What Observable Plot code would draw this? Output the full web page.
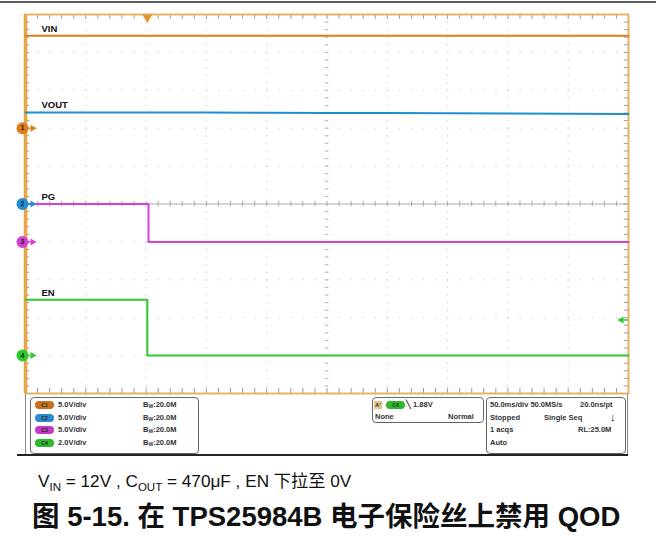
<!DOCTYPE html>
<html><head><meta charset="utf-8">
<script src="https://cdn.jsdelivr.net/npm/d3@7"></script>
<script src="https://cdn.jsdelivr.net/npm/@observablehq/plot@0.6"></script>
<style>
body{margin:0;background:#fff;font-family:"Liberation Sans",Arial,sans-serif;}
#wrap{position:relative;width:656px;height:537px;overflow:hidden;background:#fff;}
.abs{position:absolute;white-space:nowrap;}
.pt{position:absolute;white-space:nowrap;font:bold 7.5px "Liberation Sans",Arial,sans-serif;color:#333;line-height:8px;}
.box{position:absolute;border:1px solid #666;border-radius:4px;}
.badge{position:absolute;width:19px;height:8px;border-radius:4px;font:bold 5px "Liberation Sans";color:#222;text-align:center;line-height:8px;}
</style></head><body><div id="wrap"></div>
<script>
// ---- data ----
const channels = ["C1", "C2", "C3", "C4"];
const names = ["VIN", "VOUT", "PG", "EN"];
const voltsPerDiv = [5, 5, 5, 2];
const groundDiv = [2, 0, -1, -4];
const colors = ["#E07D1C", "#1F8FD2", "#D63ED6", "#2CCB2C"];
const badgeColors = ["#C9701E", "#2A8BD0", "#C23AC2", "#2DB82D"];
const vinTime = [-101, 399];
const vinV = [12.2, 12.2];
const voutTime = [-101, -50, 0, 50, 100, 150, 200, 250, 300, 350, 399];
const voutV = [12.08, 12.08, 12.07, 12.06, 12.04, 12.02, 12.0, 11.97, 11.94, 11.9, 11.87];
const pgTime = [-101, 1, 1, 399];
const pgV = [5, 5, 0, 0];
const enTime = [-101, 0, 0, 399];
const enV = [2.95, 2.95, 0, 0];
const trigLevel = 1.88;
const timePerDivMs = 50;
const xStart = -101;
const vdivLabels = ["5.0V/div", "5.0V/div", "5.0V/div", "2.0V/div"];

// ---- derived ----
const xEnd = xStart + 10 * timePerDivMs;
const times = [vinTime, voutTime, pgTime, enTime];
const volts = [vinV, voutV, pgV, enV];
const traces = times.map((ts, ch) => ts.map((t, i) => ({t, d: groundDiv[ch] + volts[ch][i] / voltsPerDiv[ch], ch})));
const gridX = d3.range(1, 10).map(k => xStart + k * timePerDivMs);
const gridY = [-4, -3, -2, -1, 1, 2, 3, 4];
const minorX = d3.range(1, 50).map(k => xStart + k * timePerDivMs / 5);
const minorY = d3.range(-24, 25).map(k => k / 5);
const xCenter = xStart + 5 * timePerDivMs;
const labels = names.map((n, ch) => ({n, ch, d: traces[ch][0].d}));
const markers = channels.map((c, ch) => ({k: String(ch + 1), ch, d: groundDiv[ch]}));
const trig = [{d: groundDiv[3] + trigLevel / voltsPerDiv[3]}];

const gridStroke = "#c8c8c8";
const plot = Plot.plot({
  width: 656, height: 396,
  marginLeft: 25, marginRight: 28, marginTop: 14, marginBottom: 3,
  x: {domain: [xStart, xEnd], axis: null},
  y: {domain: [-5, 5], axis: null},
  style: {background: "transparent", fontFamily: "Liberation Sans, Arial, sans-serif", overflow: "visible"},
  marks: [
    Plot.ruleX(gridX, {stroke: gridStroke, strokeDasharray: "1.3 6.28", strokeWidth: 1}),
    Plot.ruleY(gridY, {stroke: gridStroke, strokeDasharray: "1.3 10.76", strokeWidth: 1}),
    Plot.ruleY([0], {stroke: "#aaa", strokeWidth: 1}),
    Plot.ruleX(minorX, {y1: () => -0.07, y2: () => 0.07, stroke: "#aaa"}),
    Plot.ruleY(minorY, {x1: () => xCenter - 1.6, x2: () => xCenter + 1.6, stroke: "#bbb"}),
    Plot.ruleX(minorX, {y1: () => 5, y2: () => 4.87, stroke: "#999"}),
    Plot.ruleX(minorX, {y1: () => -5, y2: () => -4.87, stroke: "#999"}),
    Plot.ruleY(minorY, {x1: () => xStart, x2: () => xStart + 3.5, stroke: "#999"}),
    Plot.ruleY(minorY, {x1: () => xEnd - 3.5, x2: () => xEnd, stroke: "#999"}),
    Plot.frame({stroke: "#E6B366", strokeWidth: 2}),
    Plot.ruleX([xStart], {stroke: "#E8A445", strokeWidth: 3.5}),
    ...traces.map((tr, ch) => Plot.line(tr, {x: "t", y: "d", stroke: colors[ch], strokeWidth: 2, curve: "linear"})),
    Plot.text(labels, {x: () => xStart, y: "d", text: "n", dx: 16, dy: -7, textAnchor: "start", fontWeight: "bold", fontSize: 9.5, fill: "#111"}),
    // channel ground markers with arrows
    Plot.ruleY(markers, {y: "d", x1: () => xStart, x2: () => xStart + 4.5, stroke: d => colors[d.ch], strokeWidth: 1.5}),
    Plot.dot(markers, {x: () => xStart, y: "d", symbol: "triangle", rotate: 90, r: 2.6, dx: 7, fill: d => colors[d.ch], stroke: "none"}),
    Plot.dot(markers, {x: () => xStart, y: "d", r: 6, fill: d => colors[d.ch], dx: -3, stroke: "none"}),
    Plot.text(markers, {x: () => xStart, y: "d", text: "k", dx: -3, fontSize: 7, fontWeight: "bold", fill: "#222"}),
    // trigger position
    Plot.dot([0], {x: d => d, y: () => 5, symbol: "triangle", rotate: 180, r: 3.6, dy: 3, fill: "#E8902A"}),
    // trigger level
    Plot.ruleY(trig, {y: "d", x1: () => xEnd - 5, x2: () => xEnd, stroke: colors[3], strokeWidth: 1.5}),
    Plot.dot(trig, {x: () => xEnd, y: "d", symbol: "triangle", rotate: -90, r: 2.6, dx: -7, fill: colors[3], stroke: "none"})
  ]
});
plot.style.position = "absolute"; plot.style.left = "0px"; plot.style.top = "0px";
const wrap = document.getElementById("wrap");
wrap.appendChild(plot);

function add(html) { wrap.insertAdjacentHTML("beforeend", html); }
// top rule
add(`<div class="abs" style="left:0;top:1px;width:656px;height:2px;background:#5e5e5e"></div>`);
// panel frame lines
add(`<div class="abs" style="left:25px;top:394px;width:1px;height:61px;background:#888"></div>`);
add(`<div class="abs" style="left:627px;top:394px;width:1px;height:61px;background:#888"></div>`);
add(`<div class="abs" style="left:17px;top:454px;width:611px;height:1.5px;background:#222"></div>`);
add(`<div class="box" style="left:30px;top:397px;width:167px;height:55px"></div>`);
add(`<div class="box" style="left:372px;top:397px;width:110px;height:24px"></div>`);
add(`<div class="box" style="left:486px;top:397px;width:138px;height:55px"></div>`);
const rowY = [401, 414, 426, 439];
channels.forEach((c, i) => {
  add(`<div class="badge" style="left:35px;top:${rowY[i]}px;background:${badgeColors[i]}">${c}</div>`);
  add(`<div class="pt" style="left:58px;top:${rowY[i]}px">${vdivLabels[i]}</div>`);
  add(`<div class="pt" style="left:143px;top:${rowY[i]}px">B<sub style="font-size:5px;vertical-align:-1px">W</sub>:20.0M</div>`);
});
add(`<div class="abs" style="left:374px;top:401px;width:8px;height:8px;background:#E8C48A;font:bold 6px 'Liberation Sans';line-height:8px;text-align:center;color:#333">A'</div>`);
add(`<div class="badge" style="left:386px;top:401px;background:${badgeColors[3]}">C4</div>`);
add(`<div class="pt" style="left:406px;top:401px">\u2572 1.88V</div>`);
add(`<div class="pt" style="left:375px;top:413px">None</div>`);
add(`<div class="pt" style="left:448px;top:413px">Normal</div>`);
add(`<div class="pt" style="left:490px;top:401px">50.0ms/div 50.0MS/s</div>`);
add(`<div class="pt" style="left:580px;top:401px">20.0ns/pt</div>`);
add(`<div class="pt" style="left:490px;top:414px">Stopped</div>`);
add(`<div class="pt" style="left:544px;top:414px">Single Seq</div>`);
add(`<div class="pt" style="left:610px;top:413px;font-size:11px;color:#111">\u2193</div>`);
add(`<div class="pt" style="left:490px;top:426px">1 acqs</div>`);
add(`<div class="pt" style="left:578px;top:426px">RL:25.0M</div>`);
add(`<div class="pt" style="left:490px;top:439px">Auto</div>`);
// captions
add(`<div class="abs" style="left:38px;top:467px;font:17.2px 'Liberation Sans','Noto Sans CJK SC',sans-serif;color:#111">V<sub style="font-size:11.5px">IN</sub> = 12V , C<sub style="font-size:11.5px">OUT</sub> = 470μF , EN 下拉至 0V</div>`);
add(`<div class="abs" style="left:32px;top:494px;font:bold 27.5px 'Liberation Sans','Noto Sans CJK SC',sans-serif;color:#111">图 5-15. 在 TPS25984B 电子保险丝上禁用 QOD</div>`);
</script></body></html>
